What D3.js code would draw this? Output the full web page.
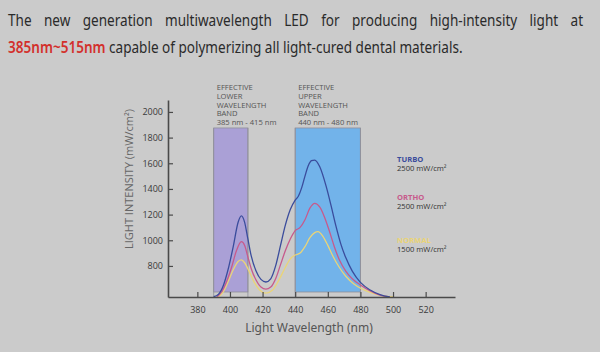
<!DOCTYPE html>
<html>
<head>
<meta charset="utf-8">
<script src="https://cdn.jsdelivr.net/npm/d3@7"></script>
<style>
  html, body { margin: 0; padding: 0; background: #cbcbcb; }
  svg { display: block; }
</style>
</head>
<body>
<svg id="chart" width="600" height="352"></svg>
<script>
// ---- data ----
const xTicks = [380, 400, 420, 440, 460, 480, 500, 520];
const yTicks = [800, 1000, 1200, 1400, 1600, 1800, 2000];

const bandNames = ["lower", "upper"];
const bandStart = [390, 440];
const bandEnd = [411, 480];
const bandTop = 1875;
const bandLabels = [
  ["EFFECTIVE", "LOWER", "WAVELENGTH", "BAND", "385 nm - 415 nm"],
  ["EFFECTIVE", "UPPER", "WAVELENGTH", "BAND", "440 nm - 480 nm"]
];

const seriesNames = ["TURBO", "ORTHO", "NORMAL"];
const seriesPower = ["2500 mW/cm²", "2500 mW/cm²", "1500 mW/cm²"];

const turboNm  = [390, 393, 396, 399, 402, 405, 407, 409, 411, 413, 416, 419, 422, 425, 428, 431, 434, 437, 440, 442, 444, 446, 448, 450, 452, 455, 459, 462, 465, 468, 471, 475, 480, 486, 492, 498];
const turboVal = [560, 580, 650, 780, 950, 1140, 1190, 1140, 1010, 880, 760, 695, 675, 700, 800, 960, 1120, 1240, 1313, 1345, 1410, 1500, 1580, 1620, 1625, 1575, 1420, 1270, 1110, 970, 865, 760, 672, 612, 576, 558];

const orthoNm  = [392, 395, 398, 401, 404, 407, 409, 411, 413, 416, 419, 422, 425, 428, 431, 434, 437, 440, 443, 446, 449, 452, 455, 458, 461, 464, 467, 471, 475, 480, 486, 492, 498];
const orthoVal = [560, 600, 680, 790, 920, 989, 960, 870, 780, 690, 635, 619, 635, 700, 810, 920, 1010, 1075, 1100, 1160, 1250, 1288, 1260, 1180, 1070, 950, 850, 760, 700, 652, 605, 572, 558];

const normalNm  = [393, 396, 399, 402, 405, 407, 409, 412, 415, 418, 422, 426, 430, 434, 437, 440, 443, 446, 449, 452, 454, 457, 460, 463, 467, 471, 476, 481, 487, 493, 500];
const normalVal = [560, 600, 680, 770, 835, 847, 825, 750, 670, 615, 588, 610, 690, 790, 855, 885, 900, 950, 1020, 1060, 1067, 1030, 960, 880, 790, 720, 660, 620, 590, 568, 558];

const seriesColors = ["#3a4c9c", "#c75a8c", "#ead477"];

// ---- layout ----
const svg = d3.select("#chart");
const fontChart = "'Open Sans', 'DejaVu Sans', sans-serif";

const x = d3.scaleLinear().domain([362, 538]).range([168, 455]);
const y = d3.scaleLinear().domain([558, 2093]).range([297, 100]);

// title: both lines squeezed horizontally, line 1 justified to full width
const title = svg.append("g");
const t1 = title.append("text")
    .attr("x", 0).attr("y", 26)
    .attr("font-family", "'Noto Sans', sans-serif")
    .attr("font-size", 15.5)
    .attr("fill", "#2a2a2a")
    .text("The new generation multiwavelength LED for producing high-intensity light at");
const t2 = title.append("text")
    .attr("x", 0).attr("y", 53)
    .attr("font-family", "'Noto Sans', sans-serif")
    .attr("font-size", 15.5)
    .attr("fill", "#2a2a2a");
t2.append("tspan").attr("fill", "#d3302c").attr("font-weight", 600).text("385nm~515nm");
t2.append("tspan").text(" capable of polymerizing all light-cured dental materials.");

const k = 455 / t2.node().getComputedTextLength();
title.attr("transform", `translate(8,0) scale(${k},1)`);
const w1 = t1.node().getComputedTextLength();
t1.attr("word-spacing", (584 / k - w1) / 10);

// bands
const bands = bandNames.map((n, i) => ({ name: n, x0: bandStart[i], x1: bandEnd[i], label: bandLabels[i] }));
const bandFill = { lower: "#aaa0d6", upper: "#72b3ea" };

svg.selectAll(".band").data(bands).enter().append("rect")
    .attr("class", "band")
    .attr("x", d => x(d.x0))
    .attr("width", d => x(d.x1) - x(d.x0))
    .attr("y", y(bandTop))
    .attr("height", y.range()[0] - 5 - y(bandTop))
    .attr("fill", d => bandFill[d.name])
    .attr("stroke", "#8f8f9a")
    .attr("stroke-width", 0.8);

// band edge lines down to axis
bands.forEach(d => {
  [d.x0, d.x1].forEach(v => {
    svg.append("line")
      .attr("x1", x(v)).attr("x2", x(v))
      .attr("y1", y(bandTop)).attr("y2", y.range()[0])
      .attr("stroke", "#8f8f9a").attr("stroke-width", 0.8);
  });
});

const bandText = svg.selectAll(".bandlabel").data(bands).enter().append("text")
    .attr("class", "bandlabel")
    .attr("y", 90)
    .attr("font-family", fontChart)
    .attr("font-size", 7.6)
    .attr("fill", "#555");
bandText.selectAll("tspan").data(d => d.label.map(s => ({ s, x: x(d.x0) + 3 }))).enter().append("tspan")
    .attr("x", d => d.x)
    .attr("dy", (d, i) => i === 0 ? 0 : 8.8)
    .text(d => d.s);

// curves
const series = [
  { nm: turboNm, val: turboVal },
  { nm: orthoNm, val: orthoVal },
  { nm: normalNm, val: normalVal }
].map((s, i) => ({ name: seriesNames[i], color: seriesColors[i], pts: s.nm.map((n, j) => [n, s.val[j]]) }));

const line = d3.line()
    .x(d => x(d[0]))
    .y(d => y(d[1]))
    .curve(d3.curveMonotoneX);

svg.selectAll(".curve").data(series.slice().reverse()).enter().append("path")
    .attr("class", "curve")
    .attr("d", d => line(d.pts))
    .attr("fill", "none")
    .attr("stroke", d => d.color)
    .attr("stroke-width", 1.3);

// axes
const xAxis = svg.append("g")
    .attr("transform", `translate(0,${y.range()[0]})`)
    .call(d3.axisBottom(x).tickValues(xTicks).tickFormat(d3.format("d")).tickSizeInner(-5).tickSizeOuter(0).tickPadding(10));
const yAxis = svg.append("g")
    .attr("transform", `translate(${x.range()[0]},0)`)
    .call(d3.axisLeft(y).tickValues(yTicks).tickFormat(d3.format("d")).tickSizeInner(-5).tickSizeOuter(0).tickPadding(5));

[xAxis, yAxis].forEach(g => {
  g.select(".domain").attr("stroke", "#4a4a4a").attr("stroke-width", 1.6);
  g.selectAll(".tick line").attr("stroke", "#4a4a4a").attr("stroke-width", 1.2);
  g.selectAll(".tick text").attr("fill", "#3a3a3a").attr("font-size", 9).attr("font-family", fontChart);
});

// axis titles
svg.append("text")
    .attr("x", 309).attr("y", 332)
    .attr("text-anchor", "middle")
    .attr("font-family", "'Noto Sans', sans-serif")
    .attr("font-size", 12)
    .attr("fill", "#555")
    .text("Light Wavelength  (nm)");

svg.append("text")
    .attr("transform", "translate(133,179) rotate(-90)")
    .attr("text-anchor", "middle")
    .attr("font-family", fontChart)
    .attr("font-size", 11)
    .attr("fill", "#666")
    .text("LIGHT INTENSITY (mW/cm²)");

// legend
const legendY = [162, 200, 243];
const legend = svg.selectAll(".legend").data(series).enter().append("g")
    .attr("class", "legend")
    .attr("transform", (d, i) => `translate(397,${legendY[i]})`);
legend.append("text")
    .attr("font-family", fontChart).attr("font-size", 7.6).attr("font-weight", 700)
    .attr("fill", d => d.color)
    .text(d => d.name);
legend.append("text")
    .attr("y", 8.5)
    .attr("font-family", fontChart).attr("font-size", 7.6)
    .attr("fill", "#333")
    .text((d, i) => seriesPower[i]);
</script>
</body>
</html>
